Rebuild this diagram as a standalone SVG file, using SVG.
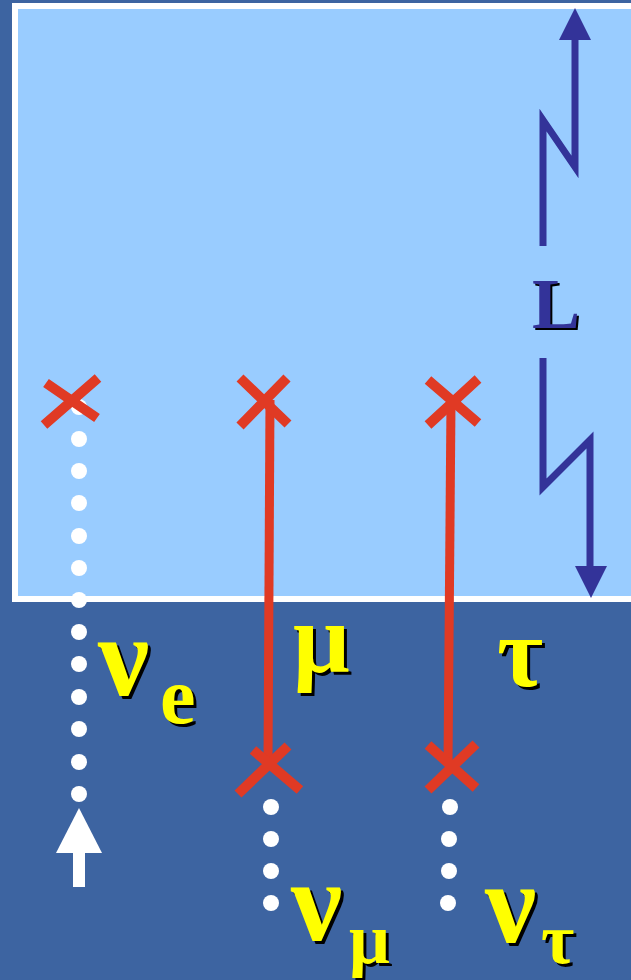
<svg xmlns="http://www.w3.org/2000/svg" width="631" height="980" viewBox="0 0 631 980">
<style>
.x{stroke:#E03A24;stroke-width:10;fill:none}
.track{stroke:#E03A24;stroke-width:9;fill:none}
.dot{fill:#fff}
.blue{stroke:#333399;stroke-width:7;fill:none}
.gk{font-family:"Liberation Serif","DejaVu Serif",serif;font-weight:bold}
.y{fill:#FFFF00}
.sh{fill:#000}
</style>
<rect x="0" y="0" width="631" height="980" fill="#3D64A1"/>
<rect id="detector" x="15" y="6" width="640" height="593" fill="#99CCFF" stroke="#fff" stroke-width="6"/>
<g id="connectors">
<line class="track" x1="270" y1="400" x2="268" y2="762"/>
<line class="track" x1="451" y1="402" x2="448" y2="764"/>
<path class="blue" d="M575 36 V167 L543 120 V246"/>
<polygon fill="#333399" points="575,8 559,40 591,40"/>
<path class="blue" d="M543 358 V487 L590 440 V570"/>
<polygon fill="#333399" points="591,598 575,566 607,566"/>
<rect x="73" y="852" width="12" height="35" fill="#fff"/>
<polygon fill="#fff" points="79,808 56,853 102,853"/>
</g>
<g id="nu-e-path">
<g class="dot">
<circle cx="79" cy="407" r="8"/><circle cx="79" cy="439" r="8"/><circle cx="79" cy="471" r="8"/><circle cx="79" cy="503" r="8"/><circle cx="79" cy="536" r="8"/><circle cx="79" cy="568" r="8"/><circle cx="79" cy="600" r="8"/><circle cx="79" cy="632" r="8"/><circle cx="79" cy="664" r="8"/><circle cx="79" cy="697" r="8"/><circle cx="79" cy="729" r="8"/><circle cx="79" cy="762" r="8"/><circle cx="79" cy="794" r="8"/>
</g>
<path class="x" d="M46 383 L97 418 M98 378 L44 425"/>
</g>
<g id="mu-path">
<path class="x" d="M240 378 L288 424 M287 378 L240 426"/>
<path class="x" d="M253 750 L300 790 M288 746 L238 794"/>
<g class="dot"><circle cx="271" cy="807" r="8"/><circle cx="271" cy="839" r="8"/><circle cx="271" cy="871" r="8"/><circle cx="271" cy="903" r="8"/></g>
</g>
<g id="tau-path">
<path class="x" d="M428 380 L478 423 M478 379 L428 425"/>
<path class="x" d="M428 745 L476 788 M476 744 L428 790"/>
<g class="dot"><circle cx="450" cy="807" r="8"/><circle cx="449" cy="839" r="8"/><circle cx="449" cy="871" r="8"/><circle cx="448" cy="903" r="8"/></g>
</g>
<g id="label-L" class="gk">
<text x="534" y="330" font-size="72" class="sh">L</text>
<text x="532" y="328" font-size="72" fill="#333399">L</text>
</g>
<g id="label-nue" class="gk">
<text x="101" y="698" font-size="115" class="sh">ν</text><text x="98" y="695" font-size="115" class="y">ν</text>
<text x="163" y="726" font-size="80" class="sh">e</text><text x="160" y="723" font-size="80" class="y">e</text>
</g>
<g id="label-mu" class="gk">
<text x="296" y="675" font-size="100" class="sh">μ</text><text x="293" y="672" font-size="100" class="y">μ</text>
</g>
<g id="label-tau" class="gk">
<text x="500" y="689" font-size="100" class="sh">τ</text><text x="497" y="686" font-size="100" class="y">τ</text>
</g>
<g id="label-numu" class="gk">
<text x="294" y="943" font-size="115" class="sh">ν</text><text x="291" y="940" font-size="115" class="y">ν</text>
<text x="352" y="966" font-size="72" class="sh">μ</text><text x="349" y="963" font-size="72" class="y">μ</text>
</g>
<g id="label-nutau" class="gk">
<text x="488" y="945" font-size="115" class="sh">ν</text><text x="485" y="942" font-size="115" class="y">ν</text>
<text x="544" y="966" font-size="72" class="sh">τ</text><text x="541" y="963" font-size="72" class="y">τ</text>
</g>
</svg>
